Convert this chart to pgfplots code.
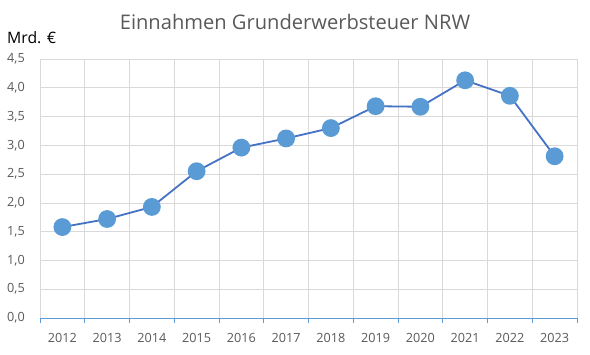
\documentclass[border=0pt]{standalone}
\usepackage{fontspec}
\setmainfont{Open Sans}
\usepackage{pgfplots}
\pgfplotsset{compat=1.18}
\definecolor{txt}{HTML}{595959}
\definecolor{gridc}{HTML}{D9D9D9}
\definecolor{axblue}{HTML}{5B9BD5}
\definecolor{lineblue}{HTML}{4472C4}
\definecolor{markc}{HTML}{5B9BD5}
\begin{document}
\begin{tikzpicture}
\useasboundingbox (0,0) rectangle (590bp,355bp);
\begin{axis}[
  at={(40bp,37bp)}, anchor=south west,
  width=537bp, height=259bp, scale only axis,
  xmin=-0.5, xmax=11.5, ymin=0, ymax=4.5,
  xtick={0,1,2,3,4,5,6,7,8,9,10,11},
  xticklabels={2012,2013,2014,2015,2016,2017,2018,2019,2020,2021,2022,2023},
  minor xtick={-0.5,0.5,1.5,2.5,3.5,4.5,5.5,6.5,7.5,8.5,9.5,10.5,11.5},
  ytick={0,0.5,1,1.5,2,2.5,3,3.5,4,4.5},
  xminorgrids, ymajorgrids,
  minor grid style={gridc, line width=0.75bp},
  major grid style={gridc, line width=0.75bp},
  axis x line*=bottom, axis y line*=left,
  y axis line style={draw=none},
  x axis line style={axblue, line width=0.9bp},
  major tick length=0pt, minor tick length=5bp,
  tick align=outside,
  minor tick style={axblue, line width=0.9bp},
  tick label style={font=\fontsize{12.7}{13}\selectfont, text=txt, inner sep=0pt},
  xticklabel style={anchor=base, yshift=-24.3bp},
  yticklabel style={anchor=east, xshift=-15bp},
  /pgf/number format/.cd, fixed, fixed zerofill, precision=1, use comma, assume math mode=true,
]
\addplot[color=lineblue, line width=1.8bp, mark=*, mark size=8bp,
  mark options={fill=markc, draw=markc}]
  coordinates {
  (0,1.58) (1,1.72) (2,1.93) (3,2.55) (4,2.96) (5,3.12)
  (6,3.30) (7,3.68) (8,3.67) (9,4.13) (10,3.86) (11,2.81)
  };
\end{axis}
\node[anchor=base, inner sep=0pt, text=txt, font=\fontsize{20.2}{21}\selectfont] at (295bp,325bp) {Einnahmen Grunderwerbsteuer NRW};
\node[anchor=base west, inner sep=0pt, text=black, font=\fontsize{15.8}{16}\selectfont] at (7bp,311.7bp) {Mrd. €};
\end{tikzpicture}
\end{document}
